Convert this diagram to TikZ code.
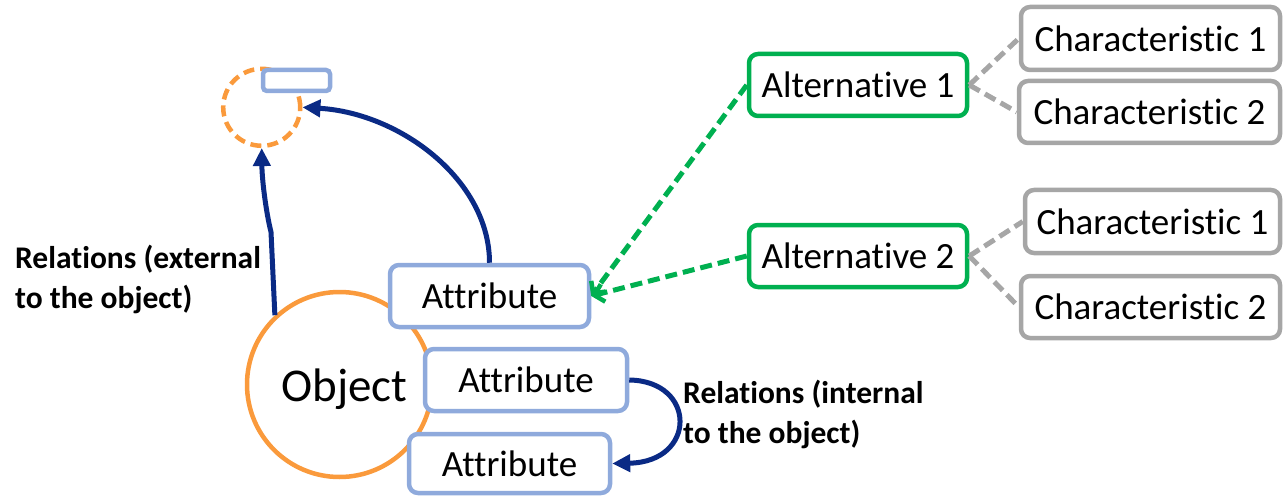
\documentclass[tikz,border=0pt]{standalone}
\usepackage{fontspec}
\setmainfont{Carlito}[Ligatures={NoCommon}]
\usetikzlibrary{arrows.meta}
\definecolor{attrblue}{HTML}{8FAADC}
\definecolor{objorange}{HTML}{FA9A3C}
\definecolor{altgreen}{HTML}{00B050}
\definecolor{chargray}{HTML}{A6A6A6}
\definecolor{relnavy}{HTML}{0A2A85}
\tikzset{
  box/.style={draw, fill=white, rounded corners=9pt, line width=4.5pt,
    inner sep=0pt, font=\fontsize{37}{44}\selectfont},
  attrbox/.style={box, draw=attrblue},
  altbox/.style={box, draw=altgreen},
  charbox/.style={box, draw=chargray},
  relarrow/.style={draw=relnavy, line width=5pt,
    -{Triangle[length=18pt,width=17pt]}},
  altlink/.style={draw=altgreen, line width=5pt, dash pattern=on 12pt off 6pt,
    -{Straight Barb[length=9pt,width=18pt,line width=4.5pt]}},
  charlink/.style={draw=chargray, line width=5pt, dash pattern=on 12pt off 6pt},
  rellabel/.style={inner sep=0pt, align=left, anchor=base west,
    font=\fontsize{31.5}{40}\selectfont\bfseries}
}
\begin{document}
\begin{tikzpicture}[x=1pt,y=-1pt]
\useasboundingbox (0,0) rectangle (1283,500);

% the object and its possible external counterpart
\node[circle, draw=objorange, line width=4.5pt, minimum size=185pt, inner sep=0pt] (obj) at (339.5,384.5) {};
\node[font=\fontsize{47}{56}\selectfont, anchor=base, inner sep=0pt] (objlabel) at (344.5,401) {Object};
\node[circle, draw=objorange, line width=4.5pt, dash pattern=on 11pt off 6pt,
  minimum size=77pt, inner sep=0pt] (ghost) at (261.7,107.3) {};
\node[draw=attrblue, fill=white, rounded corners=4pt, line width=4.5pt,
  minimum width=67pt, minimum height=21pt, inner sep=0pt] (ghostattr) at (296.5,80.5) {};

% attributes
\node[attrbox, minimum width=199pt, minimum height=62pt] (attrA) at (489.5,296) {Attribute};
\node[attrbox, minimum width=202pt, minimum height=62pt] (attrB) at (526,380) {Attribute};
\node[attrbox, minimum width=201pt, minimum height=59pt] (attrC) at (509.5,463.5) {Attribute};

% alternatives
\node[altbox, minimum width=218pt, minimum height=62pt] (alt1) at (858,85) {Alternative 1};
\node[altbox, minimum width=218pt, minimum height=62pt] (alt2) at (858,256) {Alternative 2};

% characteristics
\node[charbox, minimum width=259pt, minimum height=63pt] (ch11) at (1150.5,38.5) {Characteristic 1};
\node[charbox, minimum width=261pt, minimum height=62pt] (ch12) at (1149.5,112) {Characteristic 2};
\node[charbox, minimum width=255pt, minimum height=63pt] (ch21) at (1152.5,221.5) {Characteristic 1};
\node[charbox, minimum width=259pt, minimum height=62pt] (ch22) at (1150.5,307) {Characteristic 2};

% links between alternatives and characteristics
\draw[charlink] (alt1.east) -- (ch11.west);
\draw[charlink] (alt1.east) -- (ch12.west);
\draw[charlink] (alt2.east) -- (ch21.west);
\draw[charlink] (alt2.east) -- (ch22.west);

% alternatives of the attribute
\draw[altlink] (alt1.west) -- (attrA.east);
\draw[altlink] (alt2.west) -- (attrA.east);

% relations
\draw[relarrow] (attrA.north) .. controls (489.5,180) and (400,113) .. (ghost.east);
\draw[relarrow] (obj.133) -- (271,232) .. controls (266,212) and (262,180) .. (ghost.south);
\draw[relarrow] (attrB.east) .. controls (697,381) and (697,462) .. (attrC.east);

% labels (anchored at the baseline of the last line)
\node[rellabel] (extlabel) at (15,308) {Relations (external\\to the object)};
\node[rellabel] (intlabel) at (683,443) {Relations (internal\\to the object)};
\end{tikzpicture}
\end{document}
